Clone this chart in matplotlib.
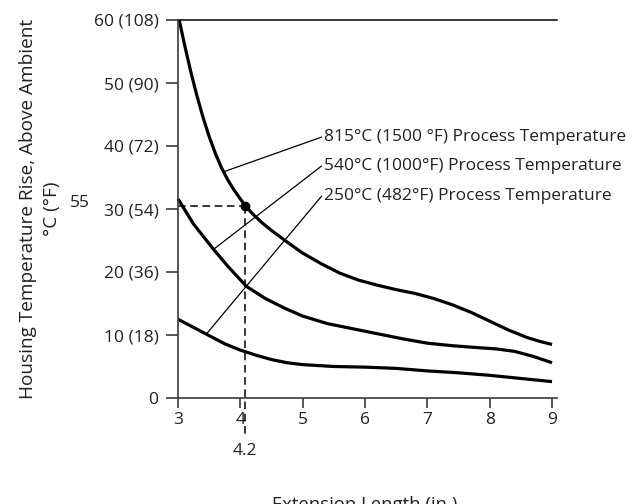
import matplotlib
matplotlib.use("Agg")
import matplotlib.pyplot as plt

plt.rcParams['font.family'] = ['Open Sans', 'DejaVu Sans']

# ---- data ----
x_815 = [3.02, 3.1, 3.2, 3.3, 3.4, 3.5, 3.6, 3.7, 3.8, 3.9, 4.0, 4.08, 4.2, 4.35, 4.5, 4.73,
         5.0, 5.3, 5.6, 5.9, 6.2, 6.5, 6.8, 7.1, 7.4, 7.7, 8.0, 8.3, 8.6, 8.8, 9.0]
y_815 = [60, 56.3, 52.0, 48.1, 44.6, 41.5, 38.8, 36.5, 34.6, 33.0, 31.6, 30.5, 29.2, 27.8,
         26.6, 24.9, 23.0, 21.3, 19.8, 18.7, 17.9, 17.2, 16.6, 15.8, 14.8, 13.6, 12.2, 10.8,
         9.6, 9.0, 8.5]

x_540 = [3.0, 3.25, 3.57, 3.8, 4.1, 4.4, 4.7, 5.0, 5.4, 5.8, 6.2, 6.6, 7.0, 7.4, 7.8, 8.1,
         8.4, 8.7, 9.0]
y_540 = [31.6, 27.6, 23.6, 20.9, 17.7, 15.8, 14.3, 13.0, 11.8, 11.0, 10.2, 9.4, 8.7, 8.3, 8.0,
         7.8, 7.4, 6.6, 5.6]

x_250 = [3.0, 3.25, 3.5, 3.75, 4.0, 4.25, 4.5, 4.75, 5.0, 5.5, 6.0, 6.5, 7.0, 7.5, 8.0, 8.5, 9.0]
y_250 = [12.5, 11.2, 9.9, 8.6, 7.6, 6.8, 6.1, 5.6, 5.3, 5.0, 4.9, 4.7, 4.3, 4.0, 3.6, 3.1, 2.6]

labels = ["815°C (1500 °F) Process Temperature",
          "540°C (1000°F) Process Temperature",
          "250°C (482°F) Process Temperature"]
# leader line start (on curve) and end (at label)
leader_start = [(3.73, 35.9), (3.57, 23.6), (3.45, 10.1)]
leader_end = [(5.30, 41.4), (5.30, 36.8), (5.30, 32.0)]

x_ticks = [3, 4, 5, 6, 7, 8, 9]
y_ticks = [0, 10, 20, 30, 40, 50, 60]
y_ticklabels = ["0", "10 (18)", "20 (36)", "30 (54)", "40 (72)", "50 (90)", "60 (108)"]

marker_x, marker_y = 4.07, 30.4
marker_xlabel = "4.2"
marker_ylabel = "55"

# ---- figure ----
fig = plt.figure(figsize=(6.32, 5.04), dpi=100)
W, H = 632, 504
ax = fig.add_axes([178 / W, 1 - 398 / H, (557 - 178) / W, (398 - 20) / H])
ax.set_xlim(3, 9.08)
ax.set_ylim(0, 60)

tc = '#231f20'
FS = 12.5
for xs, ys in [(x_815, y_815), (x_540, y_540), (x_250, y_250)]:
    ax.plot(xs, ys, color='black', lw=2.3, solid_capstyle='butt', solid_joinstyle='round',
            clip_on=False)

# top line at 60
ax.plot([3, 9.08], [60, 60], color='black', lw=1.1, clip_on=False)

for (x0, y0), (x1, y1), lab in zip(leader_start, leader_end, labels):
    ax.plot([x0, x1], [y0, y1], color='black', lw=0.9)
    ax.text(x1 + 0.04, y1, lab, fontsize=FS, color=tc, ha='left', va='center')

# dashed guide lines and marker
ax.plot([3, marker_x], [marker_y, marker_y], color='black', lw=1.1, ls=(0, (5, 3)))
ax.plot([marker_x, marker_x], [marker_y, -6.3], color='black', lw=1.1, ls=(0, (5, 3)),
        clip_on=False)
ax.plot([marker_x], [marker_y], 'o', color='black', ms=6)
ax.text(marker_x, -8.4, marker_xlabel, fontsize=FS, color=tc, ha='center', va='center')
ax.text(-0.232, 30.9, marker_ylabel, transform=ax.get_yaxis_transform(), fontsize=FS,
        color=tc, ha='right', va='center')

for s in ['top', 'right']:
    ax.spines[s].set_visible(False)
for s in ['left', 'bottom']:
    ax.spines[s].set_color('#3a3a3a')
    ax.spines[s].set_linewidth(1.2)

ax.set_xticks(x_ticks)
ax.set_xticklabels([str(v) for v in x_ticks])
ax.set_yticks(y_ticks)
ax.set_yticklabels(y_ticklabels)
ax.tick_params(axis='y', direction='out', length=9, width=1.2, color='#3a3a3a',
               labelsize=FS, labelcolor=tc, pad=5)
ax.tick_params(axis='x', direction='out', length=7, width=1.2, color='#3a3a3a',
               labelsize=FS, labelcolor=tc, pad=3)

fig.text(28 / W, 1 - 209 / H, "Housing Temperature Rise, Above Ambient", rotation=90,
         fontsize=13.7, color=tc, ha='center', va='center')
fig.text(52 / W, 1 - 209 / H, "°C (°F)", rotation=90,
         fontsize=13.7, color=tc, ha='center', va='center')
fig.text(365 / W, -0.011, "Extension Length (in.)", fontsize=13.3, color=tc,
         ha='center', va='baseline')

fig.savefig("out.png", dpi=100)
